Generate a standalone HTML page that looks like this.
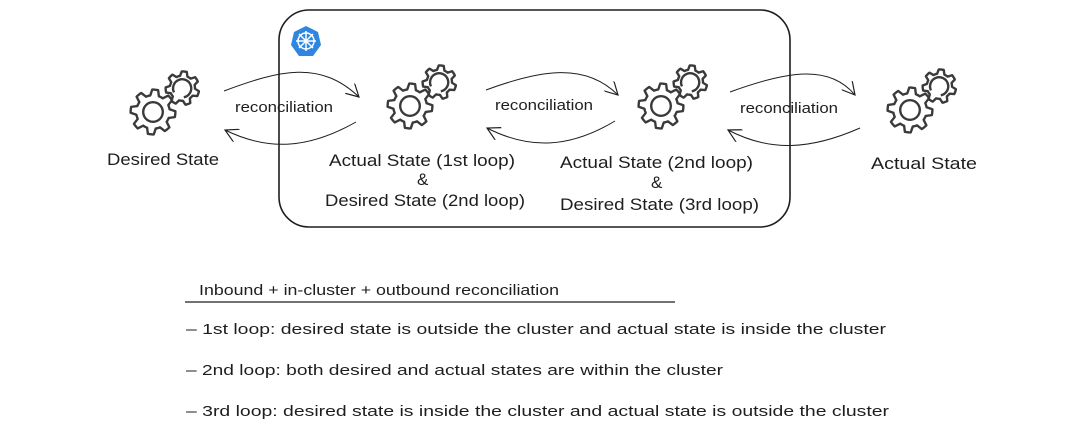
<!DOCTYPE html>
<html><head><meta charset="utf-8">
<style>
html,body{margin:0;padding:0;background:#fff;}
svg{display:block;}
text{font-family:"Liberation Sans",sans-serif;fill:#1e1e1e;}
</style></head>
<body>
<svg id="s" width="1073" height="431" viewBox="0 0 1073 431" xmlns="http://www.w3.org/2000/svg">
<defs>
<marker id="ah" viewBox="0 0 12 12" refX="11" refY="6" markerWidth="14" markerHeight="14" orient="auto" markerUnits="userSpaceOnUse">
<path d="M0,0 L11,6 L0,12" fill="none" stroke="#1e1e1e" stroke-width="1"/>
</marker>
<g id="gear">
<g transform="scale(1.4)">
<path id="big" fill="none" stroke="#3a3a3a" stroke-width="1.7" stroke-linejoin="round"/>
<circle cx="0" cy="0" r="7" fill="none" stroke="#3a3a3a" stroke-width="1.7"/>
<path id="small" fill="none" stroke="#3a3a3a" stroke-width="1.7" stroke-linejoin="round" transform="translate(21,-17)"/>
<path d="M15,-14 A6.5,6.5 0 1 1 22,-10.5" fill="none" stroke="#3a3a3a" stroke-width="1.7"/>
</g>
</g>
</defs>

<rect x="279" y="10" width="511" height="217" rx="30" fill="none" stroke="#1e1e1e" stroke-width="1.6"/>
<polygon points="306,26 318,32 321,45 313,56 299,56 291,45 294,32" fill="#2f86e0"/>
<g stroke="#fff" stroke-width="1.5" fill="none">
<circle cx="306" cy="41" r="8"/>
<line x1="306" y1="31" x2="306" y2="51"/><line x1="296" y1="41" x2="316" y2="41"/>
<line x1="299" y1="34" x2="313" y2="48"/><line x1="313" y1="34" x2="299" y2="48"/>
</g>

<use href="#gear" x="153" y="112"/>
<use href="#gear" x="410" y="106"/>
<use href="#gear" x="661" y="106"/>
<use href="#gear" x="910" y="110"/>

<g fill="none" stroke="#1e1e1e" stroke-width="1" marker-end="url(#ah)">
<path d="M224,91 C280,70 320,60 359,97"/>
<path d="M356,122 C310,148 270,152 225,130"/>
<path d="M486,90 C540,70 585,62 618,95"/>
<path d="M615,121 C570,148 530,150 487,128"/>
<path d="M730,92 C790,70 830,65 855,95"/>
<path d="M860,128 C810,150 770,152 728,130"/>
</g>

<g font-size="15">
<text x="235" y="112" textLength="98" lengthAdjust="spacingAndGlyphs">reconciliation</text>
<text x="495" y="110" textLength="98" lengthAdjust="spacingAndGlyphs">reconciliation</text>
<text x="740" y="113" textLength="98" lengthAdjust="spacingAndGlyphs">reconciliation</text>
</g>
<g font-size="17">
<text x="107" y="165" textLength="112" lengthAdjust="spacingAndGlyphs">Desired State</text>
<text x="329" y="166" textLength="186" lengthAdjust="spacingAndGlyphs">Actual State (1st loop)</text>
<text x="417" y="185">&amp;</text>
<text x="325" y="206" textLength="200" lengthAdjust="spacingAndGlyphs">Desired State (2nd loop)</text>
<text x="560" y="168" textLength="193" lengthAdjust="spacingAndGlyphs">Actual State (2nd loop)</text>
<text x="651" y="188">&amp;</text>
<text x="560" y="210" textLength="199" lengthAdjust="spacingAndGlyphs">Desired State (3rd loop)</text>
<text x="871" y="169" textLength="106" lengthAdjust="spacingAndGlyphs">Actual State</text>
</g>

<g font-size="15">
<text x="199" y="295" textLength="360" lengthAdjust="spacingAndGlyphs">Inbound + in-cluster + outbound reconciliation</text>
<line x1="185" y1="302" x2="675" y2="302" stroke="#1e1e1e" stroke-width="1.3"/>
<text x="186" y="334" textLength="700" lengthAdjust="spacingAndGlyphs">– 1st loop: desired state is outside the cluster and actual state is inside the cluster</text>
<text x="186" y="375" textLength="537" lengthAdjust="spacingAndGlyphs">– 2nd loop: both desired and actual states are within the cluster</text>
<text x="186" y="416" textLength="703" lengthAdjust="spacingAndGlyphs">– 3rd loop: desired state is inside the cluster and actual state is outside the cluster</text>
</g>
</svg>
<script>
function gear(n,ro,ri){
  var d="",steps=n*4;
  for(var i=0;i<steps;i++){
    var a=(i/steps)*Math.PI*2 - Math.PI/2;
    var r=(i%4<2)?ro:ri;
    var a1=a - Math.PI/steps*0.35, a2=a + Math.PI/steps*0.35;
    var p1=[r*Math.cos(a1),r*Math.sin(a1)],p2=[r*Math.cos(a2),r*Math.sin(a2)];
    d+=(i==0?"M":"L")+p1[0].toFixed(2)+","+p1[1].toFixed(2)+" L"+p2[0].toFixed(2)+","+p2[1].toFixed(2)+" ";
  }
  return d+"Z";
}
document.getElementById("big").setAttribute("d",gear(8,16,12));
document.getElementById("small").setAttribute("d",gear(7,12,9));
</script>
</body></html>
